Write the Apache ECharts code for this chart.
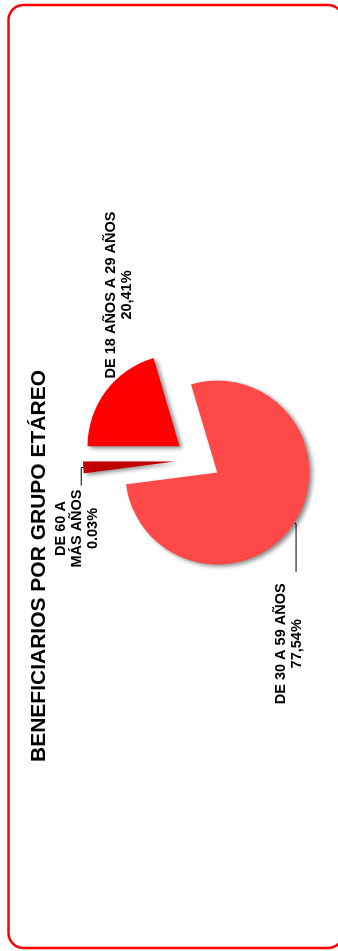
<!DOCTYPE html>
<html>
<head>
<meta charset="utf-8">
<script src="https://cdn.jsdelivr.net/npm/echarts@6/dist/echarts.min.js"></script>
<style>
html,body{margin:0;padding:0;background:#fff;overflow:hidden;width:338px;height:951px;}
#rot{position:absolute;left:0;top:0;width:951px;height:338px;transform-origin:0 0;transform:translate(0,951px) rotate(-90deg);}
</style>
</head>
<body>
<div id="rot"></div>
<script>
const titleText = 'BENEFICIARIOS POR GRUPO ETÁREO';
const categories = ['DE 18 AÑOS A 29 AÑOS', 'DE 30 A 59 AÑOS', 'DE 60 A\nMÁS AÑOS'];
const values = [20.41, 77.54, 2.05];
const percentLabels = ['20,41%', '77,54%', '0.03%'];
const colors = ['#FF0000', '#FF4848', '#C00000'];

const FONT = '"Liberation Sans", Arial, sans-serif';
const LFS = 14.5;
const ctx = document.createElement('canvas').getContext('2d');
ctx.font = 'bold ' + LFS + 'px ' + FONT;
function linesOf(i) { return categories[i].split('\n').concat([percentLabels[i]]); }
function blockWidth(i) { return Math.ceil(Math.max.apply(null, linesOf(i).map(s => ctx.measureText(s).width))) + 1; }

// per-item label tweaks (layout only)
const labelDist = [3, 11, 3];
const labelDy = [15, -7, -4];
const lineLen2 = [8, 48, 18];

const chart = echarts.init(document.getElementById('rot'), null, {renderer: 'canvas'});

chart.setOption({
  backgroundColor: '#ffffff',
  animation: false,
  title: {
    text: titleText,
    left: 184,
    top: 22,
    textStyle: {fontFamily: FONT, fontSize: 21, lineHeight: 24, fontWeight: 'bold', color: '#000'}
  },
  graphic: [{
    type: 'rect',
    shape: {x: 3, y: 8.5, width: 943, height: 334.5, r: 15},
    style: {fill: 'none', stroke: '#FF0000', lineWidth: 2.5},
    silent: true
  }],
  series: [{
    type: 'pie',
    center: [491, 198],
    radius: 92,
    startAngle: 90,
    clockwise: true,
    selectedMode: 'multiple',
    selectedOffset: 23,
    avoidLabelOverlap: false,
    data: categories.map((c, i) => ({
      name: c,
      value: values[i],
      selected: true,
      itemStyle: {color: colors[i]},
      label: {
        distanceToLabelLine: labelDist[i],
        rich: {c: {width: blockWidth(i), align: 'center', fontFamily: FONT, fontSize: LFS, fontWeight: 'bold', lineHeight: 16, color: '#000'}}
      },
      labelLine: {show: i !== 0, length2: lineLen2[i]}
    })),
    itemStyle: {
      shadowBlur: 4,
      shadowOffsetX: -2,
      shadowOffsetY: 3,
      shadowColor: 'rgba(0,0,0,0.45)'
    },
    label: {
      show: true,
      position: 'outside',
      formatter: p => linesOf(p.dataIndex).map(s => '{c|' + s + '}').join('\n'),
      fontFamily: FONT,
      fontSize: LFS,
      fontWeight: 'bold',
      lineHeight: 16,
      color: '#000'
    },
    labelLine: {
      show: true,
      length: 2,
      length2: 18,
      lineStyle: {color: '#000', width: 1}
    },
    labelLayout: p => ({dy: labelDy[p.dataIndex]}),
    emphasis: {disabled: true}
  }]
});
</script>
</body>
</html>
